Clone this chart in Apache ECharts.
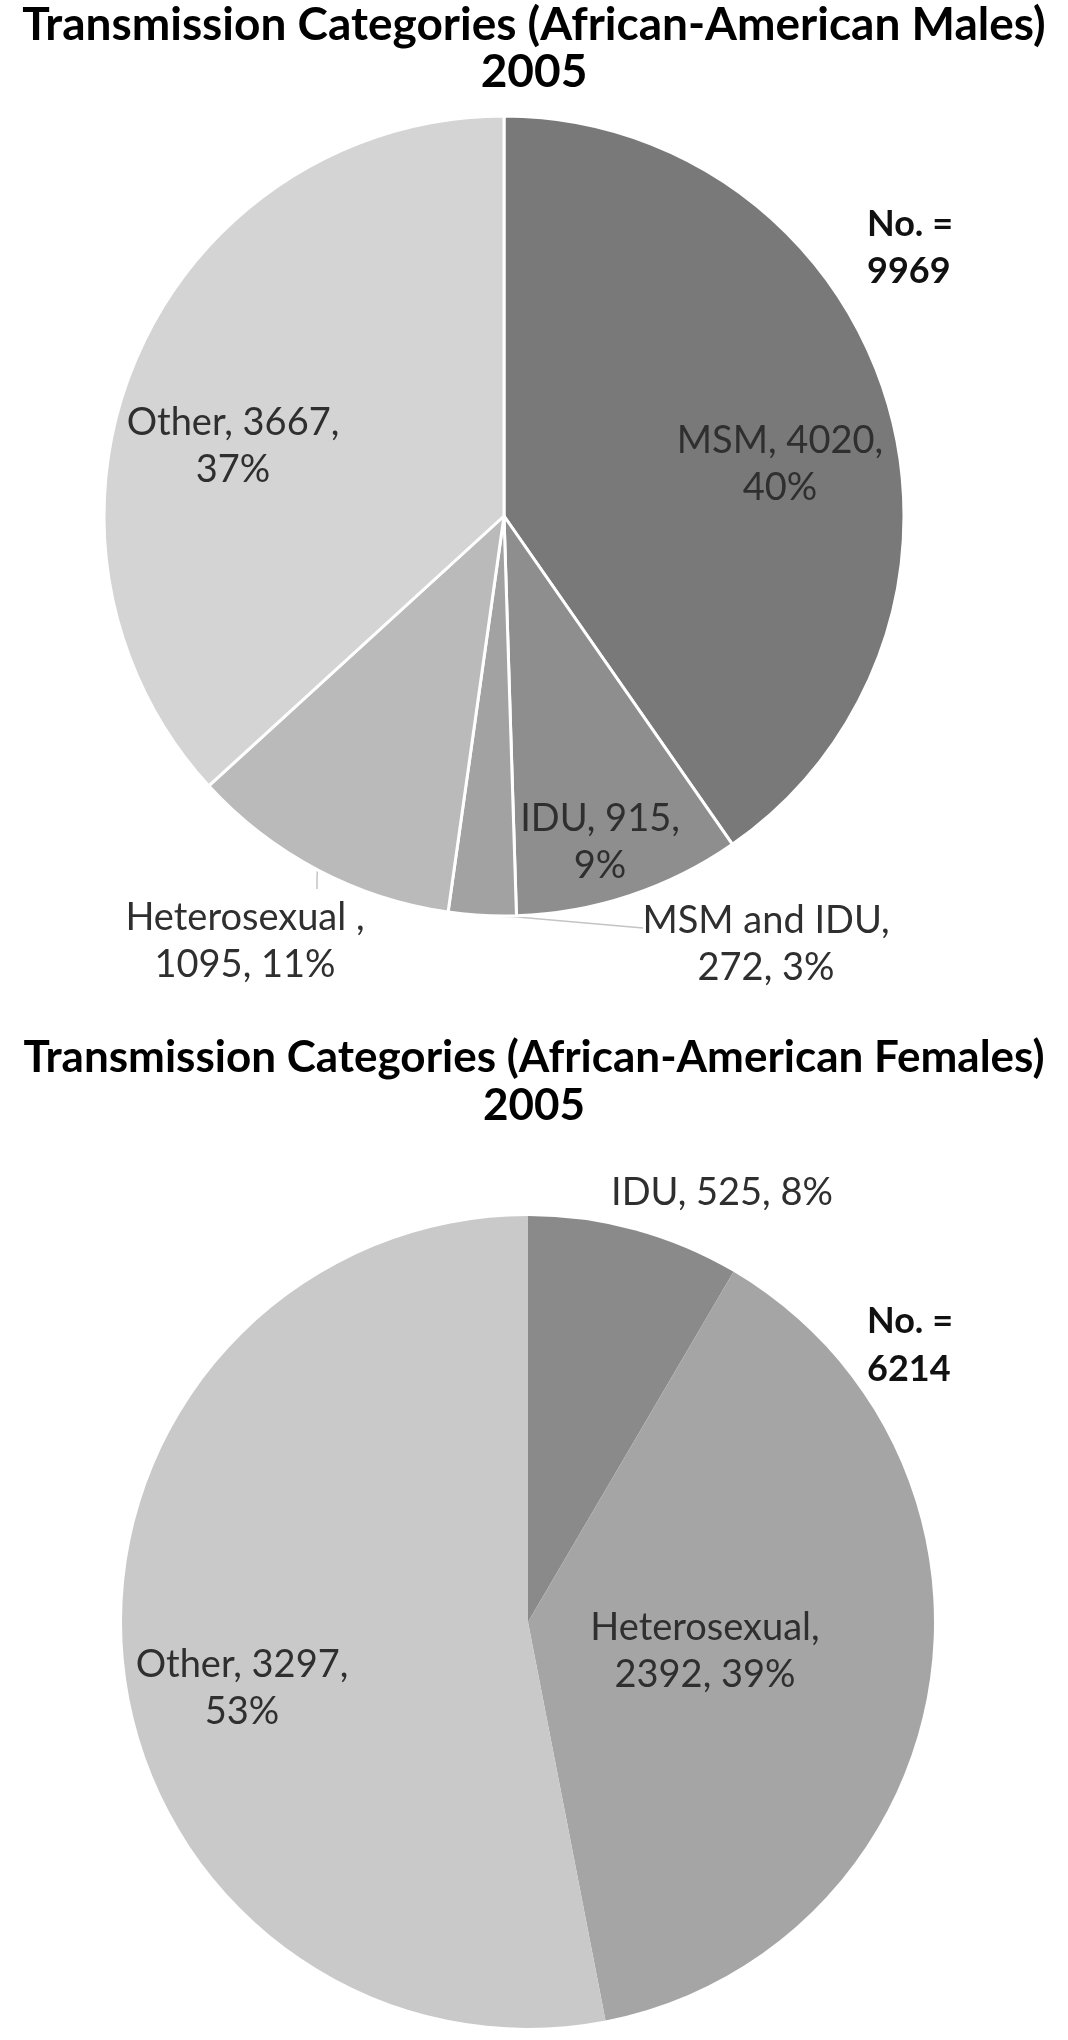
<!DOCTYPE html>
<html>
<head>
<meta charset="utf-8">
<script src="https://cdn.jsdelivr.net/npm/echarts@6/dist/echarts.min.js"></script>
<style>
  html, body { margin: 0; padding: 0; background: #ffffff; }
  #chart { width: 1068px; height: 2040px; }
</style>
</head>
<body>
<div id="chart"></div>
<script>
// ---------- DATA ----------
const maleCategories = ['MSM', 'IDU', 'MSM and IDU', 'Heterosexual', 'Other'];
const maleValues = [4020, 915, 272, 1095, 3667];
const malePercents = ['40%', '9%', '3%', '11%', '37%'];
const maleTotal = 9969;

const femaleCategories = ['IDU', 'Heterosexual', 'Other'];
const femaleValues = [525, 2392, 3297];
const femalePercents = ['8%', '39%', '53%'];
const femaleTotal = 6214;

const titleMale = 'Transmission Categories (African-American Males)';
const titleFemale = 'Transmission Categories (African-American Females)';
const titleYear = '2005';

// ---------- LAYOUT / STYLE ----------
const FONT = 'Lato, "Noto Sans", sans-serif';
const LABEL_COLOR = '#2f2f2f';
const maleColors = ['#797979', '#8e8e8e', '#a2a2a2', '#bababa', '#d4d4d4'];
const femaleColors = ['#8a8a8a', '#a5a5a5', '#c9c9c9'];

const P1 = { c: [504, 516], r: 400 };
const P2 = { c: [528, 1622], r: 406 };

// label text break style: 'value' = break after name+value, 'name' = break after name, 'none'
const maleBreaks = ['value', 'value', 'name', 'name', 'value'];
const maleLabelName = ['MSM', 'IDU', 'MSM and IDU', 'Heterosexual ', 'Other'];
const femaleBreaks = ['none', 'name', 'value'];
const femaleLabelName = ['IDU', 'Heterosexual', 'Other'];
// label centre offsets from pie centre
const maleLabelOff = [[276, -52], [96, 326], [262, 428], [-259, 425], [-271, -70]];
const femaleLabelOff = [[194, -429], [177, 29], [-286, 66]];
const maleOutside = [false, false, true, true, false];
const femaleOutside = [true, false, false];
// leader-line extra points (offsets from pie centre) for outside labels
const maleLeader = { 2: [[13, 401], [139, 412]], 3: [[-187, 363], [-187, 373]] };

function labelText(name, value, pct, brk) {
  if (brk === 'value') return name + ', ' + value + ',\n' + pct;
  if (brk === 'name') return name + ',\n' + value + ', ' + pct;
  return name + ', ' + value + ', ' + pct;
}

function midAngles(values) {
  const tot = values.reduce((a, b) => a + b, 0);
  let acc = 0;
  return values.map(v => { const m = (acc + v / 2) / tot * 2 * Math.PI; acc += v; return m; });
}

function buildData(cats, vals, pcts, names, brks, colors, outside, lineShow) {
  return cats.map((c, i) => ({
    name: c,
    value: vals[i],
    itemStyle: { color: colors[i] },
    label: {
      position: outside[i] ? 'outside' : 'inside',
      formatter: labelText(names[i], vals[i], pcts[i], brks[i])
    },
    labelLine: { show: !!(outside[i] && lineShow[i]) }
  }));
}

const maleData = buildData(maleCategories, maleValues, malePercents, maleLabelName, maleBreaks,
  maleColors, maleOutside, [false, false, true, true, false]);
const femaleData = buildData(femaleCategories, femaleValues, femalePercents, femaleLabelName, femaleBreaks,
  femaleColors, femaleOutside, [false, false, false]);

const maleMid = midAngles(maleValues);

function makeLayout(P, offs, leaders, mids) {
  return function (params) {
    const i = params.dataIndex;
    const o = offs[i];
    const res = {
      x: P.c[0] + o[0],
      y: P.c[1] + o[1],
      align: 'center',
      verticalAlign: 'middle'
    };
    if (leaders && leaders[i]) {
      const a = mids[i];
      const start = [P.c[0] + P.r * Math.sin(a), P.c[1] - P.r * Math.cos(a)];
      const pts = [start].concat(leaders[i].map(p => [P.c[0] + p[0], P.c[1] + p[1]]));
      res.labelLinePoints = pts;
    }
    return res;
  };
}

const labelBase = {
  color: LABEL_COLOR,
  fontFamily: FONT,
  fontSize: 38,
  lineHeight: 47
};

const chart = echarts.init(document.getElementById('chart'), null, { renderer: 'canvas' });

chart.setOption({
  backgroundColor: '#ffffff',
  animation: false,
  title: [
    {
      text: titleMale + '\n' + titleYear,
      left: 'center',
      top: -3,
      textStyle: { fontFamily: FONT, fontWeight: 'bold', fontSize: 46, lineHeight: 47, color: '#000' }
    },
    {
      text: titleFemale + '\n' + titleYear,
      left: 'center',
      top: 1029,
      textStyle: { fontFamily: FONT, fontWeight: 'bold', fontSize: 44, lineHeight: 48, color: '#000' }
    },
    {
      text: 'No. =\n' + maleTotal,
      left: 862,
      top: 196,
      textStyle: { fontFamily: FONT, fontWeight: 'bold', fontSize: 36, lineHeight: 47, color: '#111' }
    },
    {
      text: 'No. =\n' + femaleTotal,
      left: 862,
      top: 1292,
      textStyle: { fontFamily: FONT, fontWeight: 'bold', fontSize: 36, lineHeight: 48, color: '#111' }
    }
  ],
  series: [
    {
      type: 'pie',
      center: P1.c,
      radius: P1.r,
      startAngle: 90,
      clockwise: true,
      avoidLabelOverlap: false,
      itemStyle: { borderColor: '#ffffff', borderWidth: 3 },
      label: labelBase,
      labelLine: { lineStyle: { color: '#c4c4c4', width: 1.5 }, length: 10, length2: 10 },
      labelLayout: makeLayout(P1, maleLabelOff, maleLeader, maleMid),
      emphasis: { disabled: true },
      data: maleData
    },
    {
      type: 'pie',
      center: P2.c,
      radius: P2.r,
      startAngle: 90,
      clockwise: true,
      avoidLabelOverlap: false,
      itemStyle: { borderWidth: 0 },
      label: labelBase,
      labelLayout: makeLayout(P2, femaleLabelOff, null, null),
      emphasis: { disabled: true },
      data: femaleData
    }
  ]
});
</script>
</body>
</html>
